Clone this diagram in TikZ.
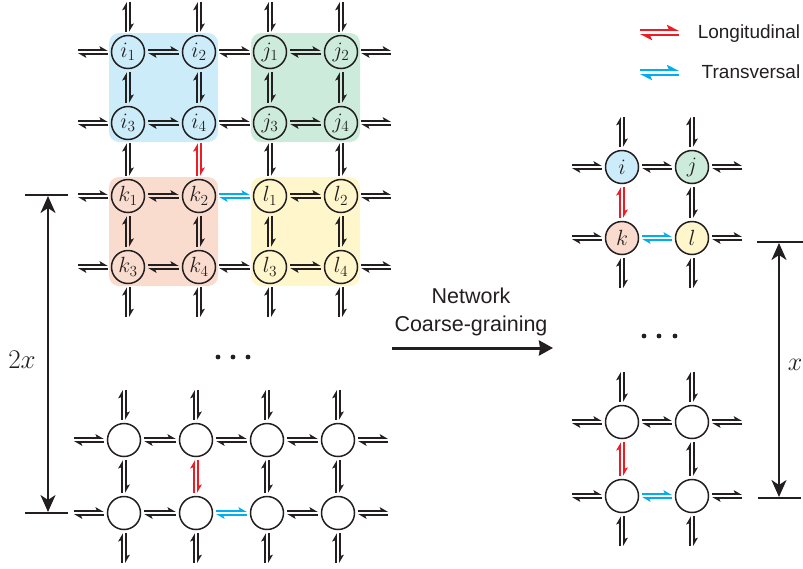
\RequirePackage{fix-cm}
\documentclass[tikz,border=0pt]{standalone}
\usepackage{fontspec}
\newfontfamily\sansf{Liberation Sans}
\usetikzlibrary{arrows.meta}
\definecolor{bgblue}{RGB}{205,236,249}
\definecolor{bggreen}{RGB}{204,235,218}
\definecolor{bgpink}{RGB}{250,220,207}
\definecolor{bgyellow}{RGB}{255,246,204}
\definecolor{lred}{RGB}{237,28,36}
\definecolor{tblue}{RGB}{0,174,239}
\definecolor{ink}{RGB}{35,31,32}
\tikzset{
  site/.style={circle, draw=ink, line width=1.5pt, minimum size=33pt, inner sep=0pt, text=ink, font=\fontsize{22}{22}\selectfont},
  harp/.style={color=ink, line width=1.8pt, shorten <=3pt, shorten >=3pt, -{Stealth[harpoon,length=7pt,width=8pt,inset=1.5pt]}},
  legarrow/.style={line width=2pt, -{Stealth[harpoon,length=10pt,width=10pt,inset=2pt]}},
  dimbar/.style={draw=ink, line width=2.3pt},
  dimarrow/.style={draw=ink, line width=2.3pt, {Stealth[length=17pt,width=15pt,inset=5pt]}-{Stealth[length=17pt,width=15pt,inset=5pt]}},
  bigarrow/.style={draw=ink, line width=3pt, -{Stealth[length=14pt,width=15pt,inset=1pt]}},
  sanstext/.style={text=ink, inner sep=0pt, font=\sansf\fontsize{19}{19}\selectfont},
  dot/.style={fill=ink}
}
\newcommand\eqh[3][]{%
  \draw[harp,#1] ([yshift=1.8pt]#2) -- ([yshift=1.8pt]#3);
  \draw[harp,#1] ([yshift=-1.8pt]#3) -- ([yshift=-1.8pt]#2);}
\newcommand\eqv[3][]{%
  \draw[harp,#1] ([xshift=-1.8pt]#3) -- ([xshift=-1.8pt]#2);
  \draw[harp,#1] ([xshift=1.8pt]#2) -- ([xshift=1.8pt]#3);}
\begin{document}
\begin{tikzpicture}[x=1pt,y=-1pt]
\useasboundingbox (0,0) rectangle (803,568);
% coloured blocks
\fill[bgblue, rounded corners=10pt] (109,33) rectangle (218,142);
\fill[bggreen, rounded corners=10pt] (251,33) rectangle (360,142);
\fill[bgpink, rounded corners=10pt] (109,177) rectangle (218,286);
\fill[bgyellow, rounded corners=10pt] (251,177) rectangle (360,286);
% top-left lattice
\node[site] (i1) at (128,52) {$i_1$};
\node[site] (i2) at (199,52) {$i_2$};
\node[site] (j1) at (270,52) {$j_1$};
\node[site] (j2) at (341,52) {$j_2$};
\node[site] (i3) at (128,123) {$i_3$};
\node[site] (i4) at (199,123) {$i_4$};
\node[site] (j3) at (270,123) {$j_3$};
\node[site] (j4) at (341,123) {$j_4$};
\node[site] (k1) at (128,196) {$k_1$};
\node[site] (k2) at (199,196) {$k_2$};
\node[site] (l1) at (270,196) {$l_1$};
\node[site] (l2) at (341,196) {$l_2$};
\node[site] (k3) at (128,267) {$k_3$};
\node[site] (k4) at (199,267) {$k_4$};
\node[site] (l3) at (270,267) {$l_3$};
\node[site] (l4) at (341,267) {$l_4$};
% bottom-left lattice
\node[site] (b1) at (124,440) {};
\node[site] (b2) at (196,440) {};
\node[site] (b3) at (267,440) {};
\node[site] (b4) at (338,440) {};
\node[site] (b5) at (124,513) {};
\node[site] (b6) at (196,513) {};
\node[site] (b7) at (267,513) {};
\node[site] (b8) at (338,513) {};
% right lattice
\node[site, fill=bgblue] (ri) at (622,167) {$i$};
\node[site, fill=bggreen] (rj) at (692,167) {$j$};
\node[site, fill=bgpink] (rk) at (622,238) {$k$};
\node[site, fill=bgyellow] (rl) at (692,238) {$l$};
\node[site] (c1) at (622,422) {};
\node[site] (c2) at (692,422) {};
\node[site] (c3) at (622,496) {};
\node[site] (c4) at (692,496) {};
% free ends
\foreach \n in {i1,i2,j1,j2,i3,i4,j3,j4,k1,k2,l1,l2,k3,k4,l3,l4,b1,b2,b3,b4,b5,b6,b7,b8,ri,rj,rk,rl,c1,c2,c3,c4}{
  \coordinate (\n-N) at ([yshift=53pt]\n.center);
  \coordinate (\n-S) at ([yshift=-53pt]\n.center);
  \coordinate (\n-W) at ([xshift=-53pt]\n.center);
  \coordinate (\n-E) at ([xshift=53pt]\n.center);
}
% top-left connections
\foreach \a/\b/\c/\d/\s in {i1/i2/j1/j2/ink, i3/i4/j3/j4/ink, k1/k2/l1/l2/tblue, k3/k4/l3/l4/ink}{
  \eqh{\a-W}{\a.west} \eqh{\a.east}{\b.west} \eqh[\s]{\b.east}{\c.west} \eqh{\c.east}{\d.west} \eqh{\d.east}{\d-E}
}
\foreach \a/\b/\c/\d/\s in {i1/i3/k1/k3/ink, i2/i4/k2/k4/lred, j1/j3/l1/l3/ink, j2/j4/l2/l4/ink}{
  \eqv{\a-N}{\a.north} \eqv{\a.south}{\b.north} \eqv[\s]{\b.south}{\c.north} \eqv{\c.south}{\d.north} \eqv{\d.south}{\d-S}
}
% bottom-left connections
\foreach \a/\b/\c/\d/\s in {b1/b2/b3/b4/ink, b5/b6/b7/b8/tblue}{
  \eqh{\a-W}{\a.west} \eqh{\a.east}{\b.west} \eqh[\s]{\b.east}{\c.west} \eqh{\c.east}{\d.west} \eqh{\d.east}{\d-E}
}
\foreach \a/\b/\s in {b1/b5/ink, b2/b6/lred, b3/b7/ink, b4/b8/ink}{
  \eqv{\a-N}{\a.north} \eqv[\s]{\a.south}{\b.north} \eqv{\b.south}{\b-S}
}
% right connections
\foreach \a/\b/\s in {ri/rj/ink, rk/rl/tblue, c1/c2/ink, c3/c4/tblue}{
  \eqh{\a-W}{\a.west} \eqh[\s]{\a.east}{\b.west} \eqh{\b.east}{\b-E}
}
\foreach \a/\b/\s in {ri/rk/lred, rj/rl/ink, c1/c3/lred, c2/c4/ink}{
  \eqv{\a-N}{\a.north} \eqv[\s]{\a.south}{\b.north} \eqv{\b.south}{\b-S}
}
% ellipses
\fill[dot] (218,357) circle (2.4) (233,357) circle (2.4) (248,357) circle (2.4);
\fill[dot] (644,336) circle (2.4) (659,336) circle (2.4) (675,336) circle (2.4);
% dimension 2x
\coordinate (lt1) at (25,195); \coordinate (lt2) at (68,195);
\coordinate (lb1) at (25,513); \coordinate (lb2) at (68,513);
\coordinate (la1) at (48,196); \coordinate (la2) at (48,512);
\draw[dimbar] (lt1) -- (lt2);
\draw[dimbar] (lb1) -- (lb2);
\draw[dimarrow] (la1) -- (la2);
\node[anchor=base, text=ink, inner sep=0pt, font=\fontsize{27}{27}\selectfont] (twox) at (22,368) {$2x$};
% dimension x
\coordinate (rt1) at (757,242); \coordinate (rt2) at (803,242);
\coordinate (rb1) at (758,498); \coordinate (rb2) at (801,498);
\coordinate (ra1) at (779,243); \coordinate (ra2) at (779,497);
\draw[dimbar] (rt1) -- (rt2);
\draw[dimbar] (rb1) -- (rb2);
\draw[dimarrow] (ra1) -- (ra2);
\node[anchor=base, text=ink, inner sep=0pt, font=\fontsize{26}{26}\selectfont] (onex) at (795,370) {$x$};
% coarse-graining arrow
\coordinate (cga) at (392,348); \coordinate (cgb) at (553,348);
\draw[bigarrow] (cga) -- (cgb);
\node[text=ink, inner sep=0pt, align=center, font=\sansf\fontsize{21.5}{28}\selectfont] (cgtext) at (471,312) {Network\\Coarse-graining};
% legend
\coordinate (lg1a) at (640,32.5); \coordinate (lg1b) at (679,32.5);
\coordinate (lg2a) at (640,72.5); \coordinate (lg2b) at (679,72.5);
\draw[legarrow, lred] ([yshift=2.6pt]lg1a) -- ([yshift=2.6pt]lg1b);
\draw[legarrow, lred] ([yshift=-2.6pt]lg1b) -- ([yshift=-2.6pt]lg1a);
\draw[legarrow, tblue] ([yshift=2.6pt]lg2a) -- ([yshift=2.6pt]lg2b);
\draw[legarrow, tblue] ([yshift=-2.6pt]lg2b) -- ([yshift=-2.6pt]lg2a);
\node[sanstext, anchor=base] (lgL) at (749,38) {Longitudinal};
\node[sanstext, anchor=base] (lgT) at (751,78) {Transversal};
\end{tikzpicture}
\end{document}
